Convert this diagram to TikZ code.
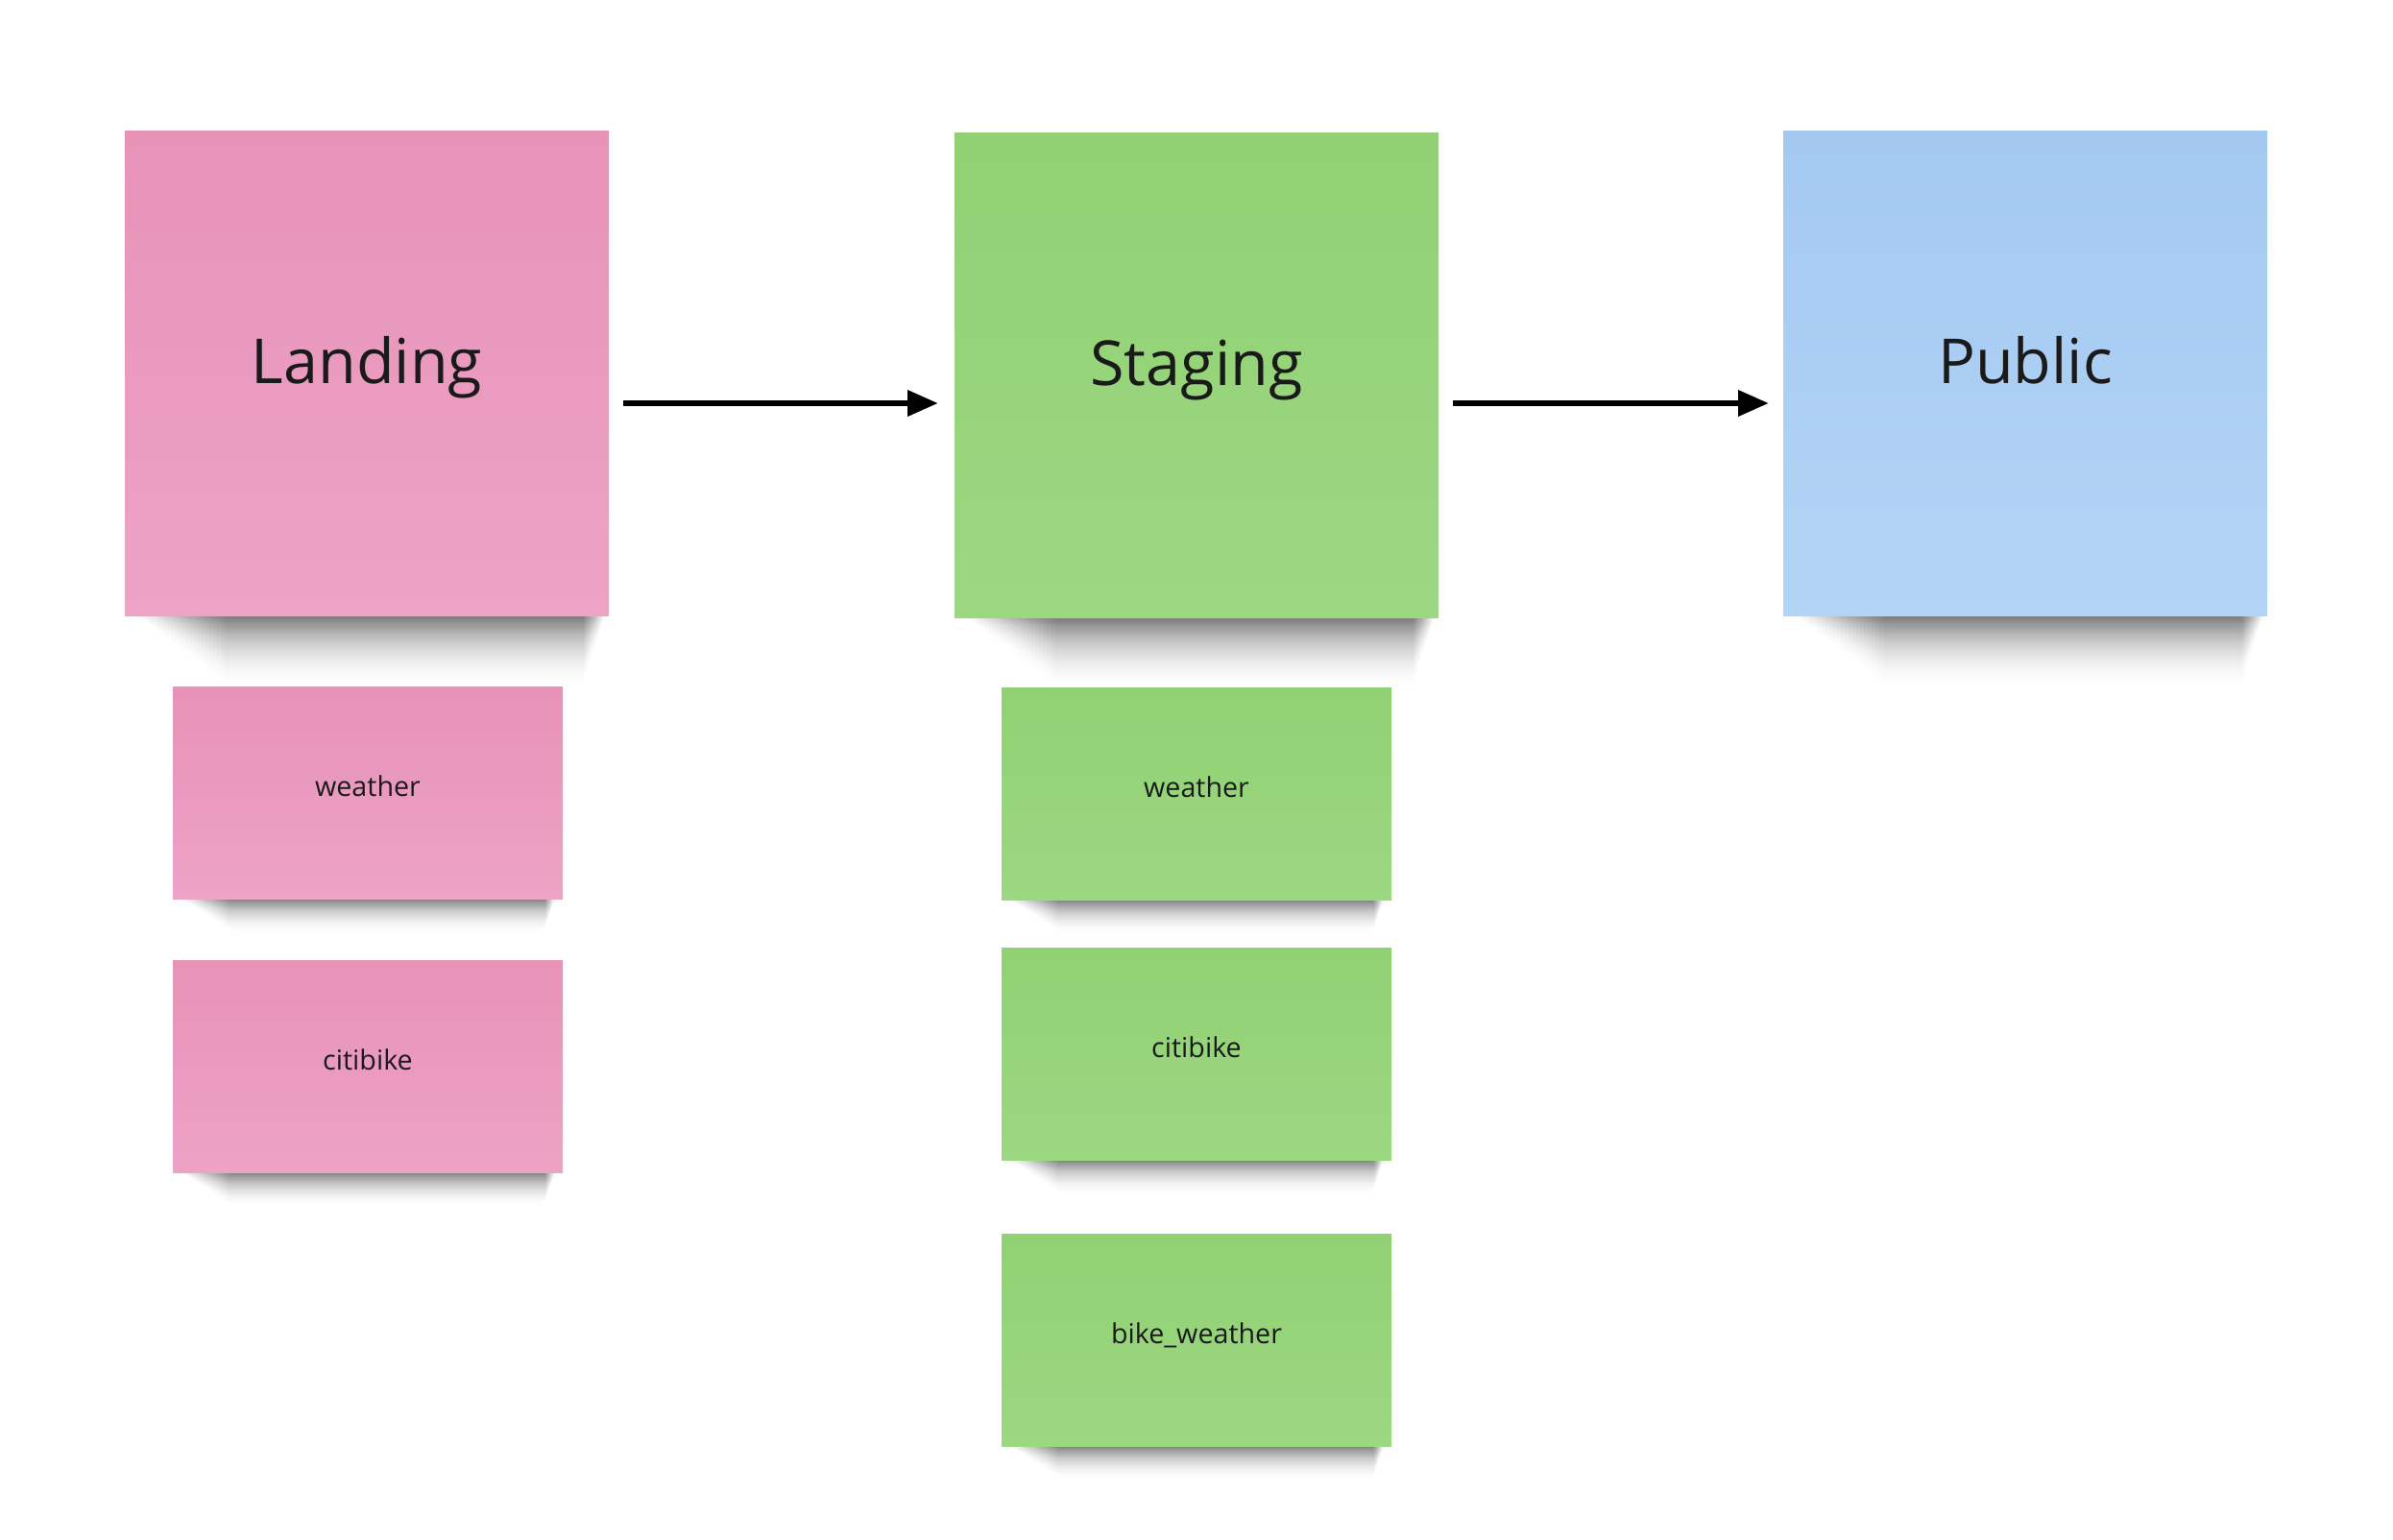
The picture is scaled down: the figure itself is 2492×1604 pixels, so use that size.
\documentclass[tikz,border=0pt]{standalone}
\usepackage{fontspec}
\setmainfont{Open Sans}
\usetikzlibrary{arrows.meta,calc,fadings}
\pgfdeclarelayer{bg}
\pgfsetlayers{bg,main}
\definecolor{pinkT}{HTML}{E892B8}
\definecolor{pinkB}{HTML}{EDA3C6}
\definecolor{greenT}{HTML}{91D173}
\definecolor{greenB}{HTML}{9CD782}
\definecolor{blueT}{HTML}{A4C9F0}
\definecolor{blueB}{HTML}{B2D4F6}
\definecolor{ink}{HTML}{1A1A1A}
\tikzfading[name=shfade, top color=transparent!0, bottom color=transparent!100]
% #1 node, #2 left inset start, #3 left step, #4 right inset start, #5 right step, #6 depth
\newcommand\mkshadow[6]{%
  \foreach \k in {1,...,24}{%
    \fill[black,opacity=0.036,path fading=shfade,rounded corners=1mm]
      ($(#1.south west)+(#2+\k*#3/2,-4)$) rectangle ($(#1.south east)+(-#4-\k*#5/2,#6*\k/24)$);
  }}
\begin{document}
\begin{tikzpicture}[x=0.1mm,y=-0.1mm,
  note/.style={rectangle, inner sep=0pt, outer sep=0pt, text=ink},
  bignote/.style={note, minimum width=50.4mm, minimum height=50.5mm,
     font=\fontsize{18.4}{19}\selectfont, text height=5mm, text depth=2.8mm},
  smallnote/.style={note, minimum width=40.6mm, minimum height=22.1mm,
     font=\fontsize{8.15}{9}\selectfont, text height=2.2mm, text depth=1.6mm},
  pinknote/.style={top color=pinkT, bottom color=pinkB},
  greennote/.style={top color=greenT, bottom color=greenB},
  bluenote/.style={top color=blueT, bottom color=blueB},
  flow/.style={line width=0.65mm, -{Triangle[length=3.2mm,width=2.6mm]}}]
\useasboundingbox (0,0) rectangle (2492,1604);

% big notes
\node[bignote,pinknote]  (landing) at (382,389)  {Landing};
\node[bignote,greennote] (staging) at (1246,391) {Staging};
\node[bignote,bluenote]  (public)  at (2109,389) {Public};

% small notes
\node[smallnote,pinknote]  (lweather)  at (383,826)  {weather};
\node[smallnote,pinknote]  (lcitibike) at (383,1111) {citibike};
\node[smallnote,greennote] (sweather)  at (1246,827) {weather};
\node[smallnote,greennote] (scitibike) at (1246,1098) {citibike};
\node[smallnote,greennote] (sbike)     at (1246,1396) {bike\_weather};

% shadows
\begin{pgfonlayer}{bg}
  \mkshadow{landing}{8}{8}{2}{2}{75}
  \mkshadow{staging}{8}{8}{2}{2}{75}
  \mkshadow{public}{8}{8}{2}{2}{75}
  \mkshadow{lweather}{4}{4.5}{6}{1}{36}
  \mkshadow{lcitibike}{4}{4.5}{6}{1}{36}
  \mkshadow{sweather}{4}{4.5}{6}{1}{36}
  \mkshadow{scitibike}{4}{4.5}{6}{1}{36}
  \mkshadow{sbike}{4}{4.5}{6}{1}{36}
\end{pgfonlayer}

% connectors
\coordinate (a1) at ([yshift=-3.1mm]landing.east);
\coordinate (a2) at ([yshift=-2.9mm]staging.east);
\draw[flow, shorten <=1.5mm, shorten >=1.7mm] (a1) -- (a1 -| staging.west);
\draw[flow, shorten <=1.5mm, shorten >=1.5mm] (a2) -- (a2 -| public.west);
\end{tikzpicture}
\end{document}
